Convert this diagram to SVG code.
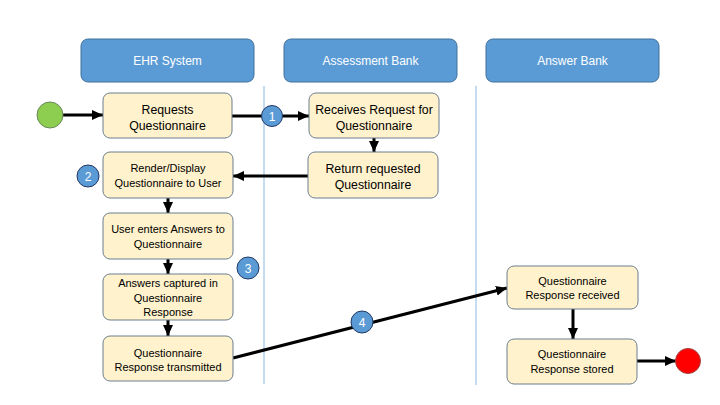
<svg xmlns="http://www.w3.org/2000/svg" width="720" height="405" viewBox="0 0 720 405">
<style>
.hdr{fill:#5b9bd5;stroke:#41719c;stroke-width:1}
.hdrt{fill:#fff;font-family:"Liberation Sans",Arial,sans-serif;font-size:12px;text-anchor:middle}
.box{fill:#fff2cc;stroke:#6d7f91;stroke-width:1}
.t12{fill:#000;font-family:"Liberation Sans",Arial,sans-serif;font-size:12.3px;text-anchor:middle}
.t11{fill:#000;font-family:"Liberation Sans",Arial,sans-serif;font-size:11px;text-anchor:middle}
.lane{stroke:#9dc3e6;stroke-width:1.2}
.num{fill:#5b9bd5;stroke:#203864;stroke-width:1}
.numt{fill:#fff;font-family:"Liberation Sans",Arial,sans-serif;font-size:12px;text-anchor:middle}
.con{stroke:#000;stroke-width:3;fill:none}
.arr{marker-end:url(#ah)}
</style>
<defs>
<marker id="ah" markerUnits="userSpaceOnUse" markerWidth="11" markerHeight="10" refX="11" refY="5" orient="auto">
<path d="M0,0 L11,5 L0,10 z" fill="#000"/>
</marker>
</defs>
<rect width="720" height="405" fill="#fff"/>
<g id="lanes">
<line class="lane" x1="264" y1="86" x2="264" y2="384"/>
<line class="lane" x1="476" y1="86" x2="476" y2="385"/>
</g>
<g id="hdr-ehr"><rect class="hdr" x="81" y="39" width="173" height="43" rx="7"/><text class="hdrt" x="167.5" y="65">EHR System</text></g>
<g id="hdr-assess"><rect class="hdr" x="284" y="39" width="173" height="43" rx="7"/><text class="hdrt" x="370.5" y="65">Assessment Bank</text></g>
<g id="hdr-answer"><rect class="hdr" x="486" y="39" width="173" height="43" rx="7"/><text class="hdrt" x="572.5" y="65">Answer Bank</text></g>
<g id="connectors">
<line class="con arr" x1="63" y1="115" x2="103" y2="115"/>
<line class="con arr" x1="232" y1="116" x2="309" y2="116"/>
<line class="con arr" x1="374" y1="138" x2="374" y2="152"/>
<line class="con arr" x1="308" y1="176" x2="233" y2="176"/>
<line class="con arr" x1="168" y1="198" x2="168" y2="213"/>
<line class="con arr" x1="168" y1="259" x2="168" y2="274"/>
<line class="con arr" x1="168" y1="320" x2="168" y2="336"/>
<line class="con arr" x1="233" y1="358" x2="507" y2="288"/>
<line class="con arr" x1="573" y1="309" x2="573" y2="339"/>
<line class="con arr" x1="637" y1="361" x2="676" y2="361"/>
</g>
<g id="start"><circle cx="50" cy="115" r="13" fill="#8dcd4f" stroke="#6a8a5a" stroke-width="1"/></g>
<g id="end"><circle cx="688" cy="361" r="12.5" fill="#ff0000" stroke="#a04040" stroke-width="1"/></g>
<g id="requests"><rect class="box" x="103" y="93" width="129" height="45" rx="7"/><text class="t12" x="167.5" y="113.5">Requests</text><text class="t12" x="167.5" y="129.5">Questionnaire</text></g>
<g id="receives"><rect class="box" x="309" y="93" width="130" height="45" rx="7"/><text class="t12" x="374" y="113.5">Receives Request for</text><text class="t12" x="374" y="129.5">Questionnaire</text></g>
<g id="return"><rect class="box" x="308" y="152" width="130" height="46" rx="7"/><text class="t12" x="373" y="172.5">Return requested</text><text class="t12" x="373" y="188.5">Questionnaire</text></g>
<g id="render"><rect class="box" x="103" y="152" width="130" height="46" rx="7"/><text class="t11" x="168" y="172">Render/Display</text><text class="t11" x="168" y="187">Questionnaire to User</text></g>
<g id="userenters"><rect class="box" x="103" y="213" width="130" height="46" rx="7"/><text class="t11" x="168" y="233">User enters Answers to</text><text class="t11" x="168" y="248">Questionnaire</text></g>
<g id="captured"><rect class="box" x="103" y="274" width="130" height="46" rx="7"/><text class="t11" x="168" y="287">Answers captured in</text><text class="t11" x="168" y="302">Questionnaire</text><text class="t11" x="168" y="316">Response</text></g>
<g id="transmitted"><rect class="box" x="103" y="336" width="130" height="45" rx="7"/><text class="t11" x="168" y="357">Questionnaire</text><text class="t11" x="168" y="371">Response transmitted</text></g>
<g id="received"><rect class="box" x="507" y="266" width="131" height="43" rx="7"/><text class="t11" x="572.5" y="285">Questionnaire</text><text class="t11" x="572.5" y="299">Response received</text></g>
<g id="stored"><rect class="box" x="507" y="339" width="130" height="45" rx="7"/><text class="t11" x="572" y="358">Questionnaire</text><text class="t11" x="572" y="373">Response stored</text></g>
<g id="n1"><circle class="num" cx="272" cy="116" r="10.5"/><text class="numt" x="272" y="120.5">1</text></g>
<g id="n2"><circle class="num" cx="88" cy="176" r="11"/><text class="numt" x="88" y="180.5">2</text></g>
<g id="n3"><circle class="num" cx="248" cy="268" r="11"/><text class="numt" x="248" y="272.5">3</text></g>
<g id="n4"><circle class="num" cx="362" cy="322" r="11"/><text class="numt" x="362" y="326.5">4</text></g>
</svg>
